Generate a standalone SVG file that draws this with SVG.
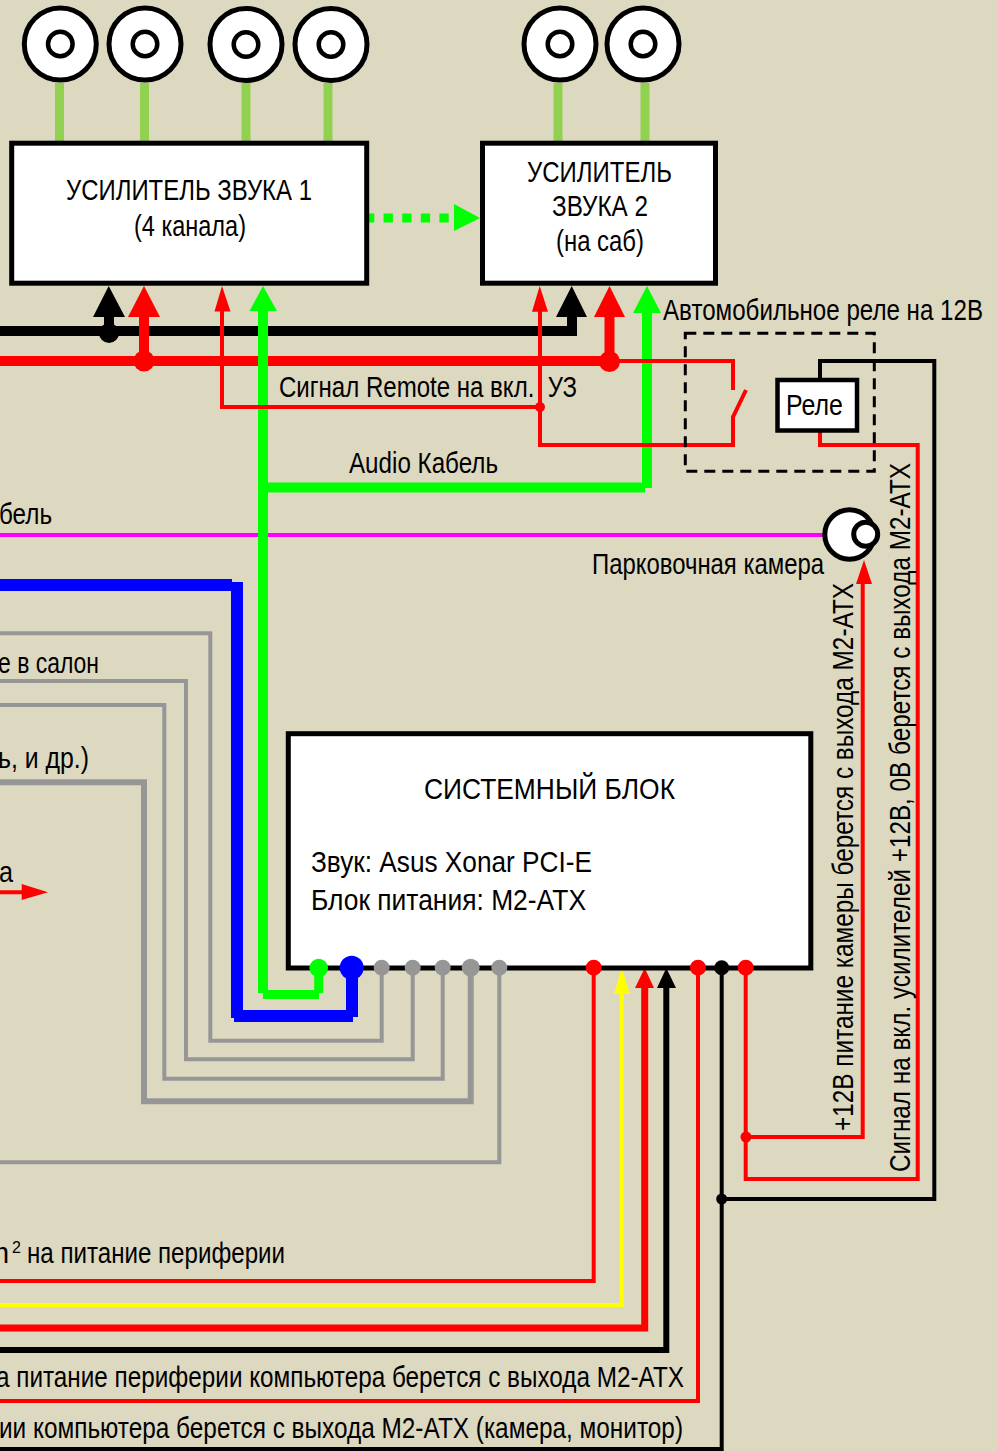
<svg xmlns="http://www.w3.org/2000/svg" width="997" height="1451" viewBox="0 0 997 1451">
<style>
text{font-family:"Liberation Sans",Arial,sans-serif;font-size:29px;fill:#000}
.box{fill:#fff;stroke:#000;stroke-width:5}
.w{fill:none;stroke-linejoin:miter}
.sp{stroke:#92D050;stroke-width:9;fill:none}
.o{fill:#fff;stroke:#000;stroke-width:5}
.i{fill:#fff;stroke:#000;stroke-width:4.5}
.r{stroke:#f00}.k{stroke:#000}.g{stroke:#0f0}.b{stroke:#00f}.a{stroke:#969696}.y{stroke:#ff0}
.fr{fill:#f00}.fk{fill:#000}.fg{fill:#0f0}.fb{fill:#00f}.fa{fill:#969696}.fy{fill:#ff0}
</style>
<rect width="997" height="1451" fill="#DDD8C0"/>
<g id="connectors">
<path class="sp" d="M59.5 83V142M144.500 83V142M246 83V142M328 83V142M558 83V142M645 83V142"/>
<path class="w" stroke="#f0f" stroke-width="4" d="M0 535H823"/>
<path class="w k" stroke-width="10" d="M0 331H572M109 331V312M572 336V312"/>
<path class="w r" stroke-width="10" d="M0 361H610M144 361V312M609.500 361V312"/>
<path class="w b" stroke-width="12" d="M0 585H232M237 582V1018M234 1016H353M352 968V1017"/>
<path class="w g" stroke-width="10" d="M263 305V993M258 487.500H645M647 305V488"/>
<path class="w g" stroke-width="9" d="M263 994.500H319M318.700 968V993"/>
<path class="w g" stroke-width="9" stroke-dasharray="9.300 9.300" stroke-dashoffset="4" d="M369 218H456"/>
<path class="w r" stroke-width="4" d="M610 361H733V390M746 390L733 417V445H540V305M540 407H222V305"/>
<path class="w r" stroke-width="4" d="M820 432V445H917.700V1179H745.700V968M745.700 1137H862.700V580"/>
<path class="w k" stroke-width="4" d="M820 380V361H934.300V1199H721.700M721.700 968V1449H0"/>
<path class="w a" stroke-width="4" d="M381.700 968V1040.700H210.300V633.300H0M412.700 968V1059.300H186V681H0M442.700 968V1078.700H164.300V705H0M499.300 968V1162.300H0"/>
<path class="w a" stroke-width="6" d="M470.700 968V1101.300H144V782.300H0"/>
<path class="w r" stroke-width="4" d="M593.700 968V1281H0M698 968V1401H0M0 892.300H25"/>
<path class="w y" stroke-width="4" d="M621.700 990V1305H0"/>
<path class="w r" stroke-width="7" d="M644.700 985V1328H0"/>
<path class="w k" stroke-width="6" d="M666.300 985V1350H0"/>
<path class="fg" d="M454 204L480 218L454 231Z"/>
<path class="fk" d="M108.700 286L125 317H93ZM571.700 286L587 317H556ZM666.300 968L676 988H657Z"/>
<path class="fr" d="M144 286L160 317H128ZM609.500 286L625 317H594ZM222 286L230.500 311.500H214.500ZM539.700 286L548 311.700H532ZM864 560L872 584H856ZM48 892.300L21.700 900V884ZM644.700 968L654 988H635Z"/>
<path class="fg" d="M263 286L277 311H249.500ZM647 286L661 313H633Z"/>
<path class="fy" d="M621.700 968L630 994H614Z"/>
<circle class="fk" cx="109" cy="333" r="10"/>
<circle class="fr" cx="144" cy="361" r="10.500"/>
<circle class="fr" cx="609.500" cy="361.500" r="10.500"/>
<circle class="fr" cx="540" cy="407" r="5"/>
<circle class="fr" cx="746" cy="1137" r="5.500"/>
<circle class="fk" cx="721.700" cy="1199" r="5.500"/>
</g>
<g id="speaker1"><circle class="o" cx="60.300" cy="44" r="36"/><circle class="i" cx="60.300" cy="44" r="12.300"/></g>
<g id="speaker2"><circle class="o" cx="145" cy="44" r="36"/><circle class="i" cx="145" cy="44" r="12.300"/></g>
<g id="speaker3"><circle class="o" cx="246" cy="44.500" r="36"/><circle class="i" cx="246" cy="44.500" r="12.300"/></g>
<g id="speaker4"><circle class="o" cx="331" cy="44.500" r="36"/><circle class="i" cx="331" cy="44.500" r="12.300"/></g>
<g id="speaker5"><circle class="o" cx="560" cy="44" r="36"/><circle class="i" cx="560" cy="44" r="12.300"/></g>
<g id="speaker6"><circle class="o" cx="643" cy="44" r="36"/><circle class="i" cx="643" cy="44" r="12.300"/></g>
<g id="amp1"><rect class="box" x="11.700" y="143.200" width="355" height="140"/>
<text x="66" y="200" textLength="246" lengthAdjust="spacingAndGlyphs">УСИЛИТЕЛЬ ЗВУКА 1</text>
<text x="134" y="236" textLength="112" lengthAdjust="spacingAndGlyphs">(4 канала)</text></g>
<g id="amp2"><rect class="box" x="482.500" y="143.200" width="233" height="140"/>
<text x="527" y="182" textLength="145" lengthAdjust="spacingAndGlyphs">УСИЛИТЕЛЬ</text>
<text x="552" y="216" textLength="96" lengthAdjust="spacingAndGlyphs">ЗВУКА 2</text>
<text x="556" y="251" textLength="88" lengthAdjust="spacingAndGlyphs">(на саб)</text></g>
<g id="relay"><rect x="685.300" y="333.300" width="189" height="138" fill="none" stroke="#000" stroke-width="3" stroke-dasharray="11 7"/>
<rect x="777.500" y="380" width="79.500" height="50.500" fill="#fff" stroke="#000" stroke-width="4.500"/>
<text x="786" y="415" textLength="57" lengthAdjust="spacingAndGlyphs">Реле</text></g>
<g id="camera"><circle class="o" cx="849.500" cy="534.500" r="24.700"/><circle class="o" cx="865.700" cy="534.300" r="12"/></g>
<g id="system"><rect class="box" x="288.300" y="733.700" width="522.500" height="234.300"/>
<text x="424" y="799" textLength="251" lengthAdjust="spacingAndGlyphs">СИСТЕМНЫЙ БЛОК</text>
<text x="311" y="872" textLength="281" lengthAdjust="spacingAndGlyphs">Звук: Asus Xonar PCI-E</text>
<text x="311" y="910" textLength="275" lengthAdjust="spacingAndGlyphs">Блок питания: M2-ATX</text>
<circle class="fg" cx="318.700" cy="968" r="9.300"/><circle class="fb" cx="351.700" cy="967.700" r="12"/>
<circle class="fa" cx="381.700" cy="967.700" r="8"/><circle class="fa" cx="412.700" cy="967.700" r="8"/><circle class="fa" cx="442.700" cy="967.700" r="8"/><circle class="fa" cx="470.700" cy="967.700" r="9"/><circle class="fa" cx="499.300" cy="967.700" r="8"/>
<circle class="fr" cx="593.700" cy="967.700" r="8"/><circle class="fr" cx="698" cy="967.700" r="8"/><circle class="fk" cx="721.700" cy="967.700" r="7.500"/><circle class="fr" cx="745.700" cy="967.700" r="8"/></g>
<g id="labels">
<text x="663" y="320" textLength="320" lengthAdjust="spacingAndGlyphs">Автомобильное реле на 12В</text>
<text x="279" y="397" textLength="298" lengthAdjust="spacingAndGlyphs" xml:space="preserve">Сигнал Remote на вкл.  УЗ</text>
<text x="349" y="473" textLength="149" lengthAdjust="spacingAndGlyphs">Audio Кабель</text>
<text x="-1" y="524" textLength="53" lengthAdjust="spacingAndGlyphs">бель</text>
<text x="592" y="574" textLength="232" lengthAdjust="spacingAndGlyphs">Парковочная камера</text>
<text x="-2" y="673" textLength="101" lengthAdjust="spacingAndGlyphs">е в салон</text>
<text x="-2" y="768" textLength="91" lengthAdjust="spacingAndGlyphs">ь, и др.)</text>
<text x="-1" y="882" textLength="14" lengthAdjust="spacingAndGlyphs">а</text>
<text transform="translate(853 1131) rotate(-90)" textLength="548" lengthAdjust="spacingAndGlyphs">+12В питание камеры берется с выхода M2-ATX</text>
<text transform="translate(910 1172) rotate(-90)" textLength="709" lengthAdjust="spacingAndGlyphs">Сигнал на вкл. усилителей +12В, 0В берется с выхода M2-ATX</text>
<text x="-15" y="1263">m</text><text x="12" y="1253" style="font-size:16px">2</text>
<text x="27" y="1263" textLength="258" lengthAdjust="spacingAndGlyphs">на питание периферии</text>
<text x="-4" y="1387" textLength="688" lengthAdjust="spacingAndGlyphs">а питание периферии компьютера берется с выхода M2-ATX</text>
<text x="-1" y="1438" textLength="684" lengthAdjust="spacingAndGlyphs">ии компьютера берется с выхода M2-ATX (камера, монитор)</text>
</g>
</svg>
